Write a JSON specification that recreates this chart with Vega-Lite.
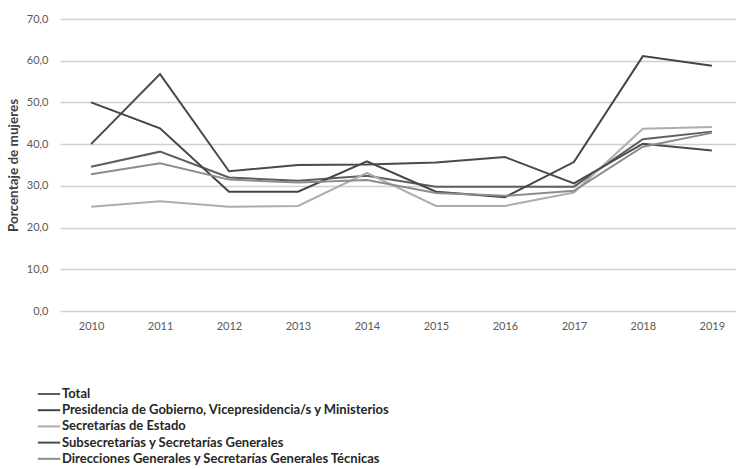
{
  "$schema": "https://vega.github.io/schema/vega-lite/v6.json",
  "autosize": {"type": "none"},
  "padding": {"left": 60, "top": 19, "right": 0, "bottom": 158},
  "width": 676,
  "height": 292,
  "background": "white",
  "config": {
    "font": "Lato",
    "locale": {"number": {"decimal": ",", "thousands": ".", "grouping": [3], "currency": ["", " €"]}},
    "view": {"stroke": null}
  },
  "data": {
    "values": [
      {"year": 2010, "serie": "Total", "value": 34.6},
      {"year": 2011, "serie": "Total", "value": 38.2},
      {"year": 2012, "serie": "Total", "value": 32.0},
      {"year": 2013, "serie": "Total", "value": 31.2},
      {"year": 2014, "serie": "Total", "value": 32.4},
      {"year": 2015, "serie": "Total", "value": 29.8},
      {"year": 2016, "serie": "Total", "value": 29.8},
      {"year": 2017, "serie": "Total", "value": 29.8},
      {"year": 2018, "serie": "Total", "value": 41.2},
      {"year": 2019, "serie": "Total", "value": 43.0},
      {"year": 2010, "serie": "Presidencia de Gobierno, Vicepresidencia/s y Ministerios", "value": 50.0},
      {"year": 2011, "serie": "Presidencia de Gobierno, Vicepresidencia/s y Ministerios", "value": 43.8},
      {"year": 2012, "serie": "Presidencia de Gobierno, Vicepresidencia/s y Ministerios", "value": 28.6},
      {"year": 2013, "serie": "Presidencia de Gobierno, Vicepresidencia/s y Ministerios", "value": 28.6},
      {"year": 2014, "serie": "Presidencia de Gobierno, Vicepresidencia/s y Ministerios", "value": 35.9},
      {"year": 2015, "serie": "Presidencia de Gobierno, Vicepresidencia/s y Ministerios", "value": 28.6},
      {"year": 2016, "serie": "Presidencia de Gobierno, Vicepresidencia/s y Ministerios", "value": 27.3},
      {"year": 2017, "serie": "Presidencia de Gobierno, Vicepresidencia/s y Ministerios", "value": 35.7},
      {"year": 2018, "serie": "Presidencia de Gobierno, Vicepresidencia/s y Ministerios", "value": 61.1},
      {"year": 2019, "serie": "Presidencia de Gobierno, Vicepresidencia/s y Ministerios", "value": 58.8},
      {"year": 2010, "serie": "Secretarías de Estado", "value": 25.0},
      {"year": 2011, "serie": "Secretarías de Estado", "value": 26.3},
      {"year": 2012, "serie": "Secretarías de Estado", "value": 25.0},
      {"year": 2013, "serie": "Secretarías de Estado", "value": 25.2},
      {"year": 2014, "serie": "Secretarías de Estado", "value": 33.1},
      {"year": 2015, "serie": "Secretarías de Estado", "value": 25.2},
      {"year": 2016, "serie": "Secretarías de Estado", "value": 25.2},
      {"year": 2017, "serie": "Secretarías de Estado", "value": 28.4},
      {"year": 2018, "serie": "Secretarías de Estado", "value": 43.7},
      {"year": 2019, "serie": "Secretarías de Estado", "value": 44.1},
      {"year": 2010, "serie": "Subsecretarías y Secretarías Generales", "value": 40.0},
      {"year": 2011, "serie": "Subsecretarías y Secretarías Generales", "value": 56.8},
      {"year": 2012, "serie": "Subsecretarías y Secretarías Generales", "value": 33.5},
      {"year": 2013, "serie": "Subsecretarías y Secretarías Generales", "value": 35.0},
      {"year": 2014, "serie": "Subsecretarías y Secretarías Generales", "value": 35.1},
      {"year": 2015, "serie": "Subsecretarías y Secretarías Generales", "value": 35.6},
      {"year": 2016, "serie": "Subsecretarías y Secretarías Generales", "value": 36.9},
      {"year": 2017, "serie": "Subsecretarías y Secretarías Generales", "value": 30.6},
      {"year": 2018, "serie": "Subsecretarías y Secretarías Generales", "value": 40.1},
      {"year": 2019, "serie": "Subsecretarías y Secretarías Generales", "value": 38.5},
      {"year": 2010, "serie": "Direcciones Generales y Secretarías Generales Técnicas", "value": 32.8},
      {"year": 2011, "serie": "Direcciones Generales y Secretarías Generales Técnicas", "value": 35.4},
      {"year": 2012, "serie": "Direcciones Generales y Secretarías Generales Técnicas", "value": 31.5},
      {"year": 2013, "serie": "Direcciones Generales y Secretarías Generales Técnicas", "value": 30.8},
      {"year": 2014, "serie": "Direcciones Generales y Secretarías Generales Técnicas", "value": 31.4},
      {"year": 2015, "serie": "Direcciones Generales y Secretarías Generales Técnicas", "value": 28.3},
      {"year": 2016, "serie": "Direcciones Generales y Secretarías Generales Técnicas", "value": 27.6},
      {"year": 2017, "serie": "Direcciones Generales y Secretarías Generales Técnicas", "value": 28.8},
      {"year": 2018, "serie": "Direcciones Generales y Secretarías Generales Técnicas", "value": 39.4},
      {"year": 2019, "serie": "Direcciones Generales y Secretarías Generales Técnicas", "value": 42.7}
    ]
  },
  "mark": {"type": "line", "strokeWidth": 2},
  "encoding": {
    "x": {
      "field": "year",
      "type": "quantitative",
      "scale": {"domain": [2009.55, 2019.35], "nice": false, "zero": false},
      "axis": {
        "values": [2010, 2011, 2012, 2013, 2014, 2015, 2016, 2017, 2018, 2019],
        "format": "d",
        "title": null,
        "grid": false,
        "domain": false,
        "ticks": false,
        "labelFontSize": 11,
        "labelColor": "#595959",
        "labelPadding": 9
      }
    },
    "y": {
      "field": "value",
      "type": "quantitative",
      "scale": {"domain": [0, 70], "nice": false},
      "axis": {
        "values": [0, 10, 20, 30, 40, 50, 60, 70],
        "format": ".1f",
        "title": "Porcentaje de mujeres",
        "titleFontSize": 13.5,
        "titleFontWeight": "bold",
        "titleColor": "#404040",
        "titlePadding": 6,
        "grid": true,
        "gridColor": "#d0d0d0",
        "gridWidth": 1.3,
        "domain": false,
        "ticks": false,
        "labelFontSize": 11,
        "labelColor": "#595959",
        "labelPadding": 12
      }
    },
    "color": {
      "field": "serie",
      "type": "nominal",
      "scale": {
        "domain": [
          "Total",
          "Presidencia de Gobierno, Vicepresidencia/s y Ministerios",
          "Secretarías de Estado",
          "Subsecretarías y Secretarías Generales",
          "Direcciones Generales y Secretarías Generales Técnicas"
        ],
        "range": ["#5e5e5e", "#454545", "#adadad", "#4a4a4a", "#8c8c8c"]
      },
      "legend": {
        "orient": "none",
        "legendX": -19,
        "legendY": 367,
        "title": null,
        "symbolType": "M-1.6,0H1.6",
        "symbolSize": 196,
        "symbolStrokeWidth": 2,
        "labelFontSize": 13,
        "labelFontWeight": "bold",
        "labelColor": "#262626",
        "labelOffset": 5,
        "labelLimit": 600,
        "rowPadding": 1.2
      }
    }
  }
}
